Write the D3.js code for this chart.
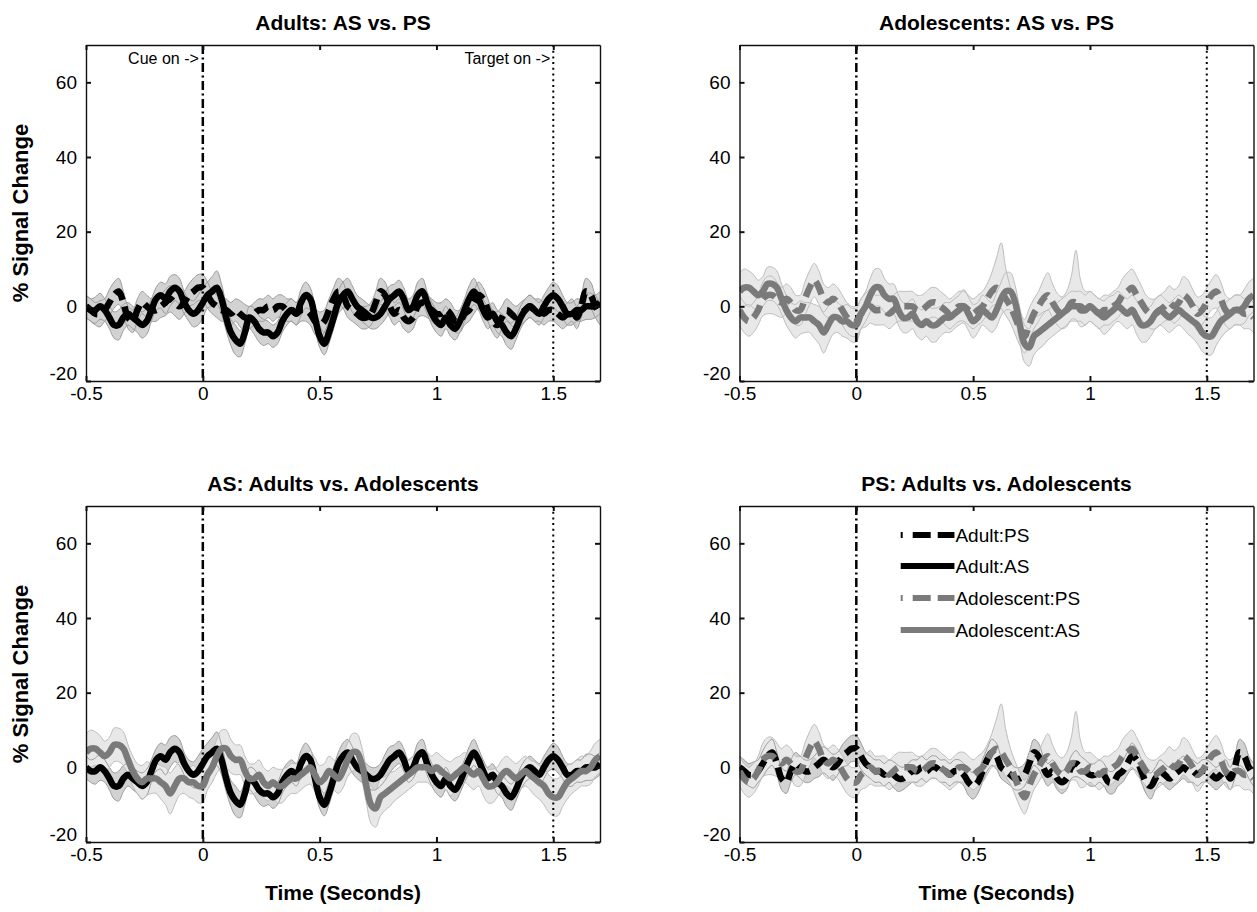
<!DOCTYPE html>
<html><head><meta charset="utf-8">
<script src="https://cdn.jsdelivr.net/npm/d3@7"></script>
<style>
body{margin:0;background:#fff}
svg{display:block}
text{font-family:"Liberation Sans",Arial,Helvetica,sans-serif;fill:#000}
</style>
</head><body>
<svg id="chart" width="1257" height="912"></svg>
<script>
// ---------- data (time from -0.5 s in 0.02 s steps) ----------
const tStart = -0.5, tStep = 0.02;

const adultAS = [
 0,-1,-1,0,-1,-3,-5,-5,-3,-2,
 -3,-4,-5,-4,-1,2,3,2,4,5,
 4,1,-1,-2,-1,1,3,4,5,2,
 -3,-7,-9,-10,-7,-3,-4,-6,-7,-7,
 -8,-7,-4,-2,-1,-2,1,3,2,-3,
 -8,-10,-7,-3,1,3,4,2,0,-1,
 -2,-3,-3,-2,0,2,3,4,2,-1,
 0,3,4,1,-2,-4,-5,-3,-5,-6,
 -4,-1,2,4,2,-1,-3,-2,-4,-5,
 -7,-8,-6,-3,-1,0,-1,-2,0,2,
 3,2,0,-2,-2,-1,-1,0,0,0,
 1];
const adultPS = [
 0,-1,-2,-2,-1,1,3,4,1,-3,
 -4,-1,1,0,-1,-1,0,1,2,1,
 0,1,3,4,5,5,3,1,0,-1,
 -1,-2,-1,-2,-3,-3,-2,-1,-1,0,
 -1,0,0,-1,-1,-2,-1,-1,-2,-4,
 -5,-4,-1,2,4,3,0,-1,-2,-3,
 -3,-2,1,4,3,0,-2,-1,-3,-4,
 -3,0,1,0,-1,-2,-2,-1,-2,-4,
 -4,-2,-1,1,3,2,-1,-4,-5,-3,
 -1,-2,-3,-2,-1,0,-1,-1,-2,-1,
 -1,-2,-3,-2,-1,-3,0,4,3,0,
 -2];
const adolAS = [
 4,5,5,4,3,4,6,6,5,2,
 -1,-3,-4,-3,-3,-3,-4,-5,-7,-5,
 -3,-3,-4,-4,-5,-5,-2,0,3,5,
 5,3,2,2,-1,-3,-3,-2,-4,-5,
 -4,-5,-5,-4,-3,-3,-2,-1,0,-2,
 -4,-3,-1,-2,-3,-1,2,4,4,1,
 -5,-10,-11,-8,-7,-6,-5,-4,-3,-2,
 -1,0,0,0,-1,0,-1,-2,-3,-2,
 -1,0,-1,-2,-1,-3,-5,-5,-4,-2,
 -1,-2,-3,-2,-1,-2,-3,-4,-5,-7,
 -8,-8,-6,-4,-3,-2,-1,-1,0,2,
 3];
const adolPS = [
 -1,-3,-4,-3,-1,2,3,3,2,1,
 2,1,-1,-1,2,5,7,5,2,1,
 2,1,-1,-3,-4,-4,-2,-1,0,-1,
 -1,-1,-2,-1,0,0,0,0,-1,-1,
 0,1,1,0,-1,-2,-1,0,0,-1,
 -2,-1,0,2,4,5,4,2,0,-3,
 -6,-8,-5,-2,0,2,3,1,-1,-2,
 -1,1,1,-1,-1,0,-1,-2,-1,-1,
 0,1,3,4,5,3,1,-1,-2,-2,
 -1,0,1,0,1,3,2,0,-2,-1,
 1,3,4,2,-1,-2,-1,-1,-2,-2,
 -3];

// standard-error bands
const adultASse = [
 3,3,3.5,3.5,3,3,3.5,4,3.5,3,
 3,3,3.5,3.5,3,3,3.5,4,4,3.5,
 3.5,3,3,3.5,4,4,3.5,4,4.5,4,
 3.5,3.5,4,3.5,3,3,3.5,3.5,3.5,3,
 3,3,3,3,3,3,3.5,3.5,3,3,
 3,3,3,3,3,3.5,3.5,3.5,3,3,
 3,3,3,3,3.5,3.5,3,3,3,3,
 3,3.5,3.5,3,3,3,3,3,3,3,
 3,3,3.5,3.5,3,3,3,3,3,3,
 3.5,3.5,3,3,3,3,3,3,3,3,
 3.5,3.5,3,3,3,3,3,3.5,3.5,3,
 3];
const adultPSse = [
 3,3,3,3.5,3,3.5,3.5,3.5,3,3,
 3,3,3,3,3,3,3,3.5,3.5,3.5,
 3.5,3,3,3.5,3.5,3.5,3.5,3,3,3,
 3,3,3,3.5,3.5,3,3,3,3,3,
 3,3,3,3,3,3,3,3,3,3.5,
 3.5,3,3,3,3.5,3.5,3,3,3,3,
 3,3,3,3.5,3.5,3,3,3,3,3,
 3,3,3.5,3,3,3,3,3,3,3,
 3,3,3,3,3.5,3,3,3,3.5,3,
 3,3,3,3,3,3,3,3,3,3,
 3,3,3,3,3,3,3,3.5,3.5,3,
 3];
const adolASse = [
 5,5,4.5,4.5,4,4,4.5,4.5,4.5,4,
 4,4,4.5,4.5,4,4,4.5,5,5.5,5,
 4.5,4,4,4.5,4.5,4.5,4,4,4.5,5,
 5,4.5,4,4,4,4,4,4,4,4,
 4,4.5,4.5,4,4,4,4,4,4.5,4.5,
 4.5,4,4,4,4,4.5,4.5,5,5,4.5,
 4.5,5,5,5,4.5,4.5,4,4,4,4,
 4,4,4,4,4,4,4,4,4.5,4.5,
 4,4,4,4,4,4.5,4.5,4.5,4,4,
 4,4,4,4,4,4,4.5,4.5,5,5,
 5,5,4.5,4.5,4,4,4,4,4.5,4.5,
 4.5];
const adolPSseUp = [
 4,4,4,4,4,4.5,5,5,4.5,4,
 4,4,4,4,4.5,4.5,4.5,4.5,4,4,
 4,4,4,4,4,4,4,4.5,4.5,4,
 4,4,4,4,4,4,4,4,4,4,
 4,4,4,4,4,4,4,4,4,4,
 4,4,4,4,5,8,13,8,5,4.5,
 4.5,4.5,4.5,4,4,5,6,5,4.5,4.5,
 5,7,14,8,5,4,4,4,4,4,
 4,4,4.5,5,5,5,4.5,4,4,4,
 4,4,4.5,4.5,4.5,5,5,4.5,4.5,4,
 4,4,4.5,4.5,4,4,4,4,4,4,
 4];
const adolPSseDown = [
 4,4,4,4,4,4.5,5,5,4.5,4,
 4,4,4,4,4.5,4.5,4.5,4.5,4,4,
 4,4,4,4,4,4,4,4.5,4.5,4,
 4,4,4,4,4,4,4,4,4,4,
 4,4,4,4,4,4,4,4,4,4,
 4,4,4,4,4,4.5,4.5,4.5,4.5,4.5,
 4.5,4.5,4.5,4,4,4,4,4,4,4,
 4.5,4.5,4.5,4.5,4,4,4,4,4,4,
 4,4,4.5,5,5,5,4.5,4,4,4,
 4,4,4.5,4.5,4.5,5,5,4.5,4.5,4,
 4,4,4.5,4.5,4,4,4,4,4,4,
 4];

const xTicks = [-0.5, 0, 0.5, 1, 1.5];
const yTicks = [-20, 0, 20, 40, 60];
const xDomain = [-0.5, 1.7];
const yDomain = [-20, 70];
const cueTime = 0, targetTime = 1.5;
const panelTitles = ["Adults: AS vs. PS", "Adolescents: AS vs. PS", "AS: Adults vs. Adolescents", "PS: Adults vs. Adolescents"];
const legendLabels = ["Adult:PS", "Adult:AS", "Adolescent:PS", "Adolescent:AS"];

// ---------- styling ----------
const series = {
  adultPS: {mean: adultPS, up: adultPSse, lo: adultPSse, color: "#000", dashed: true, band: "#d2d2d2", edge: "#9c9c9c"},
  adultAS: {mean: adultAS, up: adultASse, lo: adultASse, color: "#000", dashed: false, band: "#d2d2d2", edge: "#9c9c9c"},
  adolPS: {mean: adolPS, up: adolPSseUp, lo: adolPSseDown, color: "#7a7a7a", dashed: true, band: "#e8e8e8", edge: "#bdbdbd"},
  adolAS: {mean: adolAS, up: adolASse, lo: adolASse, color: "#7a7a7a", dashed: false, band: "#e8e8e8", edge: "#bdbdbd"}
};
const legendKeys = ["adultPS", "adultAS", "adolPS", "adolAS"];

const colX = [[86, 600], [739.5, 1253.5]];
const rowY = [[45, 381], [506, 842]];
const panels = [
  {title: panelTitles[0], c: 0, r: 0, keys: ["adultPS", "adultAS"]},
  {title: panelTitles[1], c: 1, r: 0, keys: ["adolPS", "adolAS"]},
  {title: panelTitles[2], c: 0, r: 1, keys: ["adultAS", "adolAS"]},
  {title: panelTitles[3], c: 1, r: 1, keys: ["adultPS", "adolPS"]}
];

const svg = d3.select("#chart");
const fmt = d => String(d);
const LW = 6.5, DASH = "14,7";

panels.forEach((p, pi) => {
  const [x0, x1] = colX[p.c], [y0, y1] = rowY[p.r];
  const x = d3.scaleLinear().domain(xDomain).range([x0, x1]);
  const y = d3.scaleLinear().domain(yDomain).range([y1, y0]);
  const g = svg.append("g");
  const clipId = "clip" + pi;
  g.append("clipPath").attr("id", clipId).append("rect")
    .attr("x", x0).attr("y", y0).attr("width", x1 - x0).attr("height", y1 - y0);
  const plot = g.append("g").attr("clip-path", `url(#${clipId})`);
  const tOf = i => tStart + i * tStep;
  const curve = d3.curveCatmullRom.alpha(0.5);

  // bands
  p.keys.forEach(k => {
    const s = series[k];
    const area = d3.area().curve(curve)
      .x((d, i) => x(tOf(i)))
      .y0((d, i) => y(d - s.lo[i]))
      .y1((d, i) => y(d + s.up[i]));
    plot.append("path").datum(s.mean).attr("d", area).attr("fill", s.band);
  });
  p.keys.forEach(k => {
    const s = series[k];
    const lu = d3.line().curve(curve).x((d, i) => x(tOf(i))).y((d, i) => y(d + s.up[i]));
    const ll = d3.line().curve(curve).x((d, i) => x(tOf(i))).y((d, i) => y(d - s.lo[i]));
    plot.append("path").datum(s.mean).attr("d", lu).attr("fill", "none").attr("stroke", s.edge).attr("stroke-width", 1);
    plot.append("path").datum(s.mean).attr("d", ll).attr("fill", "none").attr("stroke", s.edge).attr("stroke-width", 1);
  });

  // event lines
  plot.append("line").attr("x1", x(cueTime)).attr("x2", x(cueTime)).attr("y1", y0).attr("y2", y1)
    .attr("stroke", "#000").attr("stroke-width", 2.5).attr("stroke-dasharray", "9,3.5,2,3.5");
  plot.append("line").attr("x1", x(targetTime)).attr("x2", x(targetTime)).attr("y1", y0).attr("y2", y1)
    .attr("stroke", "#000").attr("stroke-width", 2).attr("stroke-dasharray", "2,3.7");

  // mean lines
  p.keys.forEach(k => {
    const s = series[k];
    const line = d3.line().curve(curve).x((d, i) => x(tOf(i))).y(d => y(d));
    plot.append("path").datum(s.mean).attr("d", line).attr("fill", "none")
      .attr("stroke", s.color).attr("stroke-width", LW)
      .attr("stroke-dasharray", s.dashed ? DASH : null);
  });

  // axes (MATLAB box with inward ticks)
  const axStyle = sel => {
    sel.selectAll(".domain").attr("stroke", "#111").attr("stroke-width", 1.4);
    sel.selectAll(".tick line").attr("stroke", "#111").attr("stroke-width", 2);
    sel.selectAll("text").style("font-size", "19px").attr("fill", "#111")
      .style("font-family", '"Liberation Sans",Arial,sans-serif');
  };
  g.append("g").attr("transform", `translate(0,${y1})`)
    .call(d3.axisBottom(x).tickValues(xTicks).tickFormat(fmt).tickSizeInner(-5).tickSizeOuter(0).tickPadding(6))
    .call(axStyle);
  g.append("g").attr("transform", `translate(0,${y0})`)
    .call(d3.axisTop(x).tickValues(xTicks).tickFormat("").tickSizeInner(-5).tickSizeOuter(0))
    .call(axStyle);
  const yAx = g.append("g").attr("transform", `translate(${x0},0)`)
    .call(d3.axisLeft(y).tickValues(yTicks).tickFormat(fmt).tickSizeInner(-5).tickSizeOuter(0).tickPadding(9))
    .call(axStyle);
  // lift the bottom y label a little so it sits just above the corner x label
  yAx.selectAll(".tick").filter(d => d === yDomain[0]).select("text").attr("dy", "-0.1em");
  g.append("g").attr("transform", `translate(${x1},0)`)
    .call(d3.axisRight(y).tickValues(yTicks).tickFormat("").tickSizeInner(-5).tickSizeOuter(0))
    .call(axStyle);
  g.selectAll("text").attr("font-family", null);

  // title
  g.append("text").attr("x", (x0 + x1) / 2).attr("y", y0 - 15).attr("text-anchor", "middle")
    .style("font-size", "21px").style("font-weight", "bold").text(p.title);

  if (p.c === 0) {
    g.append("text").attr("transform", `translate(28,${(y0 + y1) / 2}) rotate(-90)`)
      .attr("text-anchor", "middle").style("font-size", "22px").style("font-weight", "bold")
      .text("% Signal Change");
  }
  if (p.r === 1) {
    g.append("text").attr("x", (x0 + x1) / 2).attr("y", y1 + 58).attr("text-anchor", "middle")
      .style("font-size", "21px").style("font-weight", "bold").text("Time (Seconds)");
  }
  if (pi === 0) {
    g.append("text").attr("x", x(cueTime) - 4).attr("y", y0 + 19).attr("text-anchor", "end")
      .style("font-size", "16px").text("Cue on ->");
    g.append("text").attr("x", x(targetTime) - 3).attr("y", y0 + 19).attr("text-anchor", "end")
      .style("font-size", "16px").text("Target on ->");
  }
  if (pi === 3) {
    const lx0 = x(0.19), lx1 = x(0.42);
    const rows = [535, 566, 598, 630];
    legendKeys.forEach((k, i) => {
      const s = series[k];
      g.append("line").attr("x1", lx0).attr("x2", lx1).attr("y1", rows[i]).attr("y2", rows[i])
        .attr("stroke", s.color).attr("stroke-width", 6)
        .attr("stroke-dasharray", s.dashed ? "2,10,18,7,18" : null);
      g.append("text").attr("x", lx1 + 1).attr("y", rows[i]).attr("dy", "0.35em")
        .style("font-size", "19px").text(legendLabels[i]);
    });
  }
});
</script>
</body></html>
